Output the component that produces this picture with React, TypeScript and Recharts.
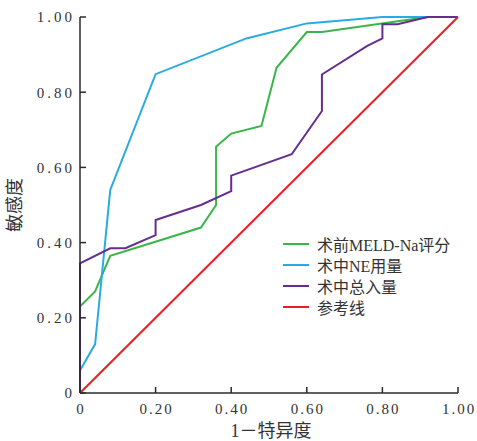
import React from 'react';
import { LineChart, Line, XAxis, YAxis, Legend, Label } from 'recharts';

const tickValues = [0, 0.2, 0.4, 0.6, 0.8, 1.0];
const seriesNames = ['术前MELD-Na评分', '术中NE用量', '术中总入量', '参考线'];
const seriesColors = ['#3ab54a', '#29abe2', '#662d91', '#ee1c25'];

const greenX = [0, 0, 0.04, 0.08, 0.32, 0.36, 0.36, 0.40, 0.48, 0.52, 0.60, 0.64, 0.92, 1];
const greenY = [0, 0.23, 0.27, 0.365, 0.44, 0.50, 0.655, 0.69, 0.71, 0.865, 0.96, 0.96, 1, 1];

const blueX = [0, 0, 0.04, 0.08, 0.20, 0.44, 0.60, 0.80, 1];
const blueY = [0, 0.06, 0.13, 0.54, 0.848, 0.943, 0.983, 1, 1];

const purpleX = [0, 0, 0.08, 0.12, 0.20, 0.20, 0.32, 0.40, 0.40, 0.56, 0.64, 0.64, 0.76, 0.80, 0.80, 0.84, 0.92, 1];
const purpleY = [0, 0.345, 0.385, 0.385, 0.42, 0.46, 0.50, 0.537, 0.578, 0.635, 0.75, 0.847, 0.923, 0.943, 0.981, 0.981, 1, 1];

const refX = [0, 1];
const refY = [0, 1];

const toPts = (xs: number[], ys: number[]) => xs.map((x, i) => ({ x, y: ys[i] }));

const FONT = '"Liberation Serif", "Noto Sans CJK SC", serif';
const AXIS_COLOR = '#2b2b2b';
const fmt = (v: number) => (v === 0 ? '0' : v.toFixed(2));

const X_MARGIN = 10;
const Y_MARGIN = 8;

const XTick = (props: any) => {
  const { x, y, payload } = props;
  const ay = y - X_MARGIN;
  return (
    <g>
      <line x1={x} x2={x} y1={ay} y2={ay - 6} stroke={AXIS_COLOR} strokeWidth={1.5} />
      <text x={x + 1} y={y} dy="0.71em" textAnchor="middle" fontFamily={FONT} fontSize={15} letterSpacing={2} fill="#333">
        {fmt(payload.value)}
      </text>
    </g>
  );
};

const YTick = (props: any) => {
  const { x, y, payload } = props;
  const ax = x + Y_MARGIN;
  return (
    <g>
      <line x1={ax} x2={ax + 6} y1={y} y2={y} stroke={AXIS_COLOR} strokeWidth={1.5} />
      <text x={x + 3} y={y} dy="0.355em" textAnchor="end" fontFamily={FONT} fontSize={15} letterSpacing={3} fill="#333">
        {fmt(payload.value)}
      </text>
    </g>
  );
};

const LegendContent = (props: any) => {
  const payload = [...(props.payload || [])].sort(
    (a: any, b: any) => seriesNames.indexOf(a.value) - seriesNames.indexOf(b.value)
  );
  return (
    <div style={{ fontFamily: FONT, fontSize: 16, color: '#333' }}>
      {payload.map((e: any, i: number) => (
        <div key={i} style={{ display: 'flex', alignItems: 'center', height: 21 }}>
          <svg width={26} height={4} style={{ marginRight: 8 }}>
            <line x1={0} x2={26} y1={2} y2={2} stroke={e.color} strokeWidth={2} />
          </svg>
          <span>{e.value}</span>
        </div>
      ))}
    </div>
  );
};

export default function App() {
  const series = [toPts(greenX, greenY), toPts(blueX, blueY), toPts(purpleX, purpleY), toPts(refX, refY)];
  return (
    <div style={{ position: 'absolute', left: 0, top: 0, width: 477, height: 441, background: '#fff' }}>
      <LineChart width={477} height={441} margin={{ top: 17, right: 19, bottom: 18, left: 0 }}>
        <XAxis
          type="number"
          dataKey="x"
          domain={[0, 1]}
          ticks={tickValues}
          tick={<XTick />}
          tickSize={0}
          tickMargin={X_MARGIN}
          height={30}
          axisLine={{ stroke: AXIS_COLOR, strokeWidth: 1.5 }}
          tickLine={false}
          allowDuplicatedCategory={false}
        >
          <Label
            content={(p: any) => {
              const vb = p.viewBox;
              return (
                <text x={vb.x + vb.width / 2 + 2} y={431} textAnchor="middle" dominantBaseline="central" fontFamily={FONT} fontSize={18} fill="#333">
                  1－特异度
                </text>
              );
            }}
          />
        </XAxis>
        <YAxis
          type="number"
          dataKey="y"
          domain={[0, 1]}
          ticks={tickValues}
          tick={<YTick />}
          tickSize={0}
          tickMargin={Y_MARGIN}
          width={80}
          axisLine={{ stroke: AXIS_COLOR, strokeWidth: 1.5 }}
          tickLine={false}
        >
          <Label
            content={(p: any) => {
              const vb = p.viewBox;
              const cy = vb.y + vb.height / 2;
              return (
                <text x={15} y={cy} textAnchor="middle" dominantBaseline="central" transform={`rotate(-90, 15, ${cy})`} fontFamily={FONT} fontSize={18} fill="#333">
                  敏感度
                </text>
              );
            }}
          />
        </YAxis>
        <Legend
          layout="vertical"
          verticalAlign="middle"
          align="center"
          content={<LegendContent />}
          wrapperStyle={{ left: 283, top: 233, width: 190 }}
        />
        {series.map((d, i) => (
          <Line
            key={seriesNames[i]}
            data={d}
            dataKey="y"
            name={seriesNames[i]}
            stroke={seriesColors[i]}
            strokeWidth={2}
            dot={false}
            activeDot={false}
            isAnimationActive={false}
            type="linear"
          />
        ))}
      </LineChart>
    </div>
  );
}
